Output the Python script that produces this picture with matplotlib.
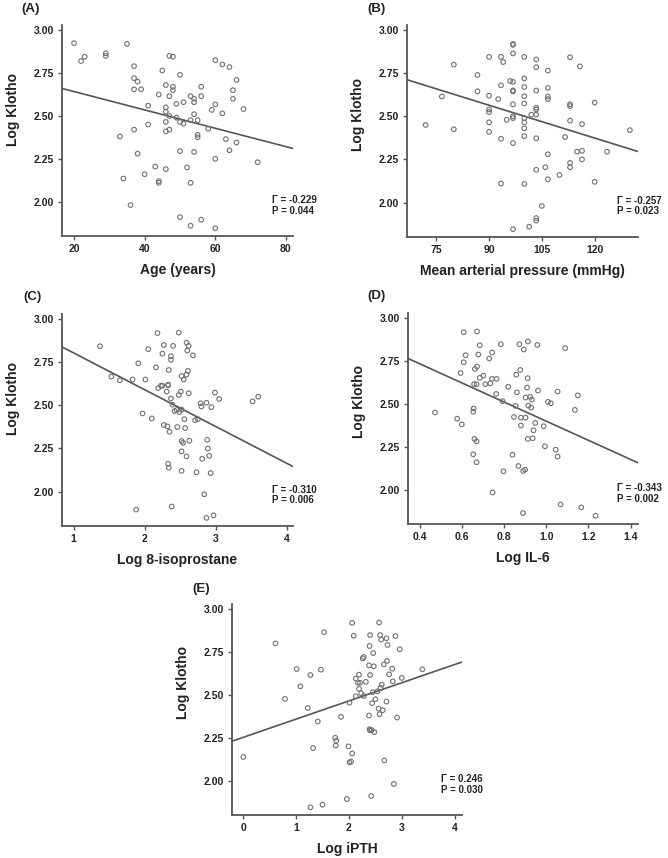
import numpy as np
import matplotlib
matplotlib.use("Agg")
import matplotlib.pyplot as plt

plt.rcParams['font.family'] = ['Liberation Sans', 'DejaVu Sans']

# (A) age vs log klotho
age = [20, 22, 23, 29, 29, 35, 37, 37, 38, 37, 39, 41, 44, 45, 47, 48, 50, 46, 48, 48,
       47, 49, 51, 53, 54, 54, 56, 56, 46, 46, 47, 49, 50, 51, 53, 54, 55, 46, 41, 37,
       46, 47, 33, 55, 55, 58, 59, 60, 60, 62, 64, 66, 65, 65, 62, 68, 63, 66, 64, 38,
       50, 54, 60, 72, 43, 46, 52, 40, 34, 44, 44, 53, 36, 50, 56, 53, 60]
klotho_a = [2.924, 2.82, 2.845, 2.865, 2.85, 2.92, 2.79, 2.72, 2.70, 2.655, 2.655, 2.56, 2.625,
            2.765, 2.85, 2.845, 2.74, 2.68, 2.67, 2.65, 2.615, 2.57, 2.58, 2.615, 2.60, 2.58,
            2.67, 2.615, 2.55, 2.525, 2.50, 2.49, 2.465, 2.455, 2.475, 2.51, 2.475, 2.465,
            2.45, 2.42, 2.41, 2.42, 2.38, 2.39, 2.375, 2.425, 2.535, 2.567, 2.825, 2.80,
            2.785, 2.71, 2.65, 2.60, 2.515, 2.54, 2.365, 2.345, 2.30, 2.28, 2.295, 2.29,
            2.25, 2.23, 2.205, 2.19, 2.20, 2.16, 2.135, 2.12, 2.11, 2.11, 1.98, 1.91, 1.895,
            1.86, 1.845]

# (B) mean arterial pressure
map_mmhg = [72, 76.6, 80, 80, 86.7, 86.7, 90, 90, 90, 90, 90, 90, 92.6, 93.4, 94, 93.4, 93.4,
            93.4, 95, 96, 96.8, 96.8, 96.8, 96.8, 96.8, 96.8, 96.8, 96.8, 96.8, 96.8, 96.8,
            100, 100, 100, 100, 100, 100, 100, 100, 100, 100, 102, 101.4, 103.4, 103.4, 103.4,
            103.4, 103.4, 103.4, 103.4, 103.4, 103.4, 103.4, 105, 106, 106.7, 106.7, 106.7,
            106.7, 106.7, 106.7, 110, 111.6, 113, 113, 113, 113, 113, 113, 115.8, 116.4, 115,
            116.4, 116.4, 120, 120, 123.5, 130]
klotho_b = [2.45, 2.615, 2.80, 2.425, 2.74, 2.645, 2.845, 2.62, 2.54, 2.525, 2.465, 2.41, 2.60,
            2.845, 2.815, 2.68, 2.37, 2.11, 2.48, 2.705, 2.92, 2.915, 2.865, 2.70, 2.65, 2.645,
            2.57, 2.50, 2.49, 2.345, 1.845, 2.845, 2.72, 2.67, 2.617, 2.575, 2.49, 2.465, 2.43,
            2.385, 2.108, 2.51, 1.86, 2.83, 2.785, 2.65, 2.55, 2.54, 2.51, 2.373, 2.19, 1.91,
            1.895, 1.98, 2.205, 2.765, 2.665, 2.615, 2.60, 2.28, 2.135, 2.16, 2.38, 2.843,
            2.57, 2.56, 2.475, 2.23, 2.205, 2.79, 2.455, 2.295, 2.30, 2.25, 2.58, 2.12, 2.295,
            2.42]

# (C) log 8-isoprostane
iso = [1.37, 1.53, 1.65, 1.83, 1.91, 2.01, 2.05, 2.18, 2.16, 2.25, 2.27, 2.40, 2.37, 2.37, 2.34,
       2.19, 2.23, 2.25, 2.33, 2.33, 2.31, 2.37, 2.48, 2.59, 2.62, 2.60, 2.68, 2.61, 2.59, 2.52,
       2.55, 2.51, 2.48, 2.62, 2.39, 2.45, 2.42, 2.52, 2.49, 2.56, 2.75, 2.71, 2.79, 2.80, 2.87,
       2.94, 2.99, 3.05, 3.52, 3.60, 1.97, 2.10, 2.27, 2.32, 2.35, 2.46, 2.57, 2.52, 2.54, 2.63,
       2.88, 2.89, 2.52, 2.59, 2.81, 2.91, 2.33, 2.34, 2.52, 2.73, 2.93, 2.84, 1.88, 2.38, 2.87,
       2.97]
klotho_c = [2.843, 2.667, 2.645, 2.65, 2.744, 2.65, 2.826, 2.919, 2.72, 2.80, 2.85, 2.845, 2.785,
            2.764, 2.705, 2.60, 2.614, 2.614, 2.62, 2.616, 2.58, 2.54, 2.922, 2.864, 2.845,
            2.818, 2.79, 2.70, 2.678, 2.67, 2.65, 2.58, 2.56, 2.57, 2.504, 2.473, 2.467, 2.475,
            2.461, 2.42, 2.42, 2.414, 2.512, 2.494, 2.515, 2.49, 2.574, 2.537, 2.523, 2.55,
            2.453, 2.424, 2.386, 2.378, 2.347, 2.374, 2.368, 2.293, 2.283, 2.295, 2.30, 2.25,
            2.233, 2.204, 2.19, 2.207, 2.161, 2.138, 2.12, 2.112, 2.107, 1.984, 1.895, 1.913,
            1.847, 1.862]

# (D) log IL-6
il6 = [0.473, 0.578, 0.60, 0.594, 0.609, 0.609, 0.618, 0.656, 0.654, 0.658, 0.67, 0.662, 0.672,
       0.672, 0.678, 0.685, 0.685, 0.702, 0.711, 0.66, 0.67, 0.654, 0.67, 0.73, 0.744, 0.735,
       0.743, 0.765, 0.763, 0.785, 0.793, 0.82, 0.746, 0.797, 0.84, 0.847, 0.855, 0.861, 0.858,
       0.868, 0.873, 0.877, 0.88, 0.88, 0.894, 0.90, 0.891, 0.902, 0.89, 0.902, 0.909, 0.912,
       0.913, 0.915, 0.913, 0.924, 0.929, 0.932, 0.936, 0.94, 0.948, 0.958, 0.961, 0.988, 0.994,
       1.008, 1.022, 1.054, 1.045, 1.054, 1.068, 1.09, 1.136, 1.15, 1.166, 1.234]
klotho_d = [2.45, 2.414, 2.381, 2.68, 2.918, 2.743, 2.784, 2.473, 2.455, 2.615, 2.615, 2.704,
            2.718, 2.922, 2.788, 2.842, 2.652, 2.665, 2.615, 2.296, 2.282, 2.206, 2.16, 2.765,
            2.80, 2.62, 2.646, 2.646, 2.558, 2.848, 2.516, 2.60, 1.984, 2.107, 2.204, 2.424,
            2.488, 2.568, 2.67, 2.138, 2.848, 2.698, 2.374, 2.42, 2.817, 2.117, 2.109, 2.42,
            1.864, 2.537, 2.595, 2.65, 2.864, 2.49, 2.296, 2.541, 2.479, 2.525, 2.30, 2.346,
            2.389, 2.844, 2.578, 2.37, 2.253, 2.512, 2.504, 2.572, 2.233, 2.193, 1.914, 2.825,
            2.465, 2.55, 1.897, 1.848]

# (E) log iPTH
ipth = [0, 0.61, 0.79, 1.01, 1.08, 1.22, 1.27, 1.27, 1.32, 1.41, 1.47, 1.50, 1.53, 1.74, 1.76,
        1.75, 1.85, 1.96, 1.99, 2.01, 2.01, 2.04, 2.06, 2.06, 2.09, 2.13, 2.13, 2.17, 2.19, 2.19,
        2.21, 2.23, 2.26, 2.28, 2.28, 2.32, 2.38, 2.39, 2.40, 2.38, 2.40, 2.39, 2.40, 2.43, 2.42,
        2.44, 2.45, 2.47, 2.46, 2.48, 2.50, 2.54, 2.57, 2.59, 2.61, 2.56, 2.58, 2.62, 2.60, 2.64,
        2.67, 2.66, 2.71, 2.71, 2.73, 2.72, 2.76, 2.82, 2.83, 2.85, 2.88, 2.91, 2.96, 3.00, 3.39]
klotho_e = [2.138, 2.80, 2.477, 2.651, 2.55, 2.424, 2.616, 1.845, 2.19, 2.345, 2.647, 1.86, 2.866,
            2.25, 2.233, 2.205, 2.372, 1.893, 2.20, 2.455, 2.107, 2.112, 2.159, 2.92, 2.845,
            2.595, 2.492, 2.571, 2.618, 2.535, 2.571, 2.51, 2.713, 2.721, 2.494, 2.576, 2.672,
            2.785, 2.849, 2.38, 2.616, 2.30, 2.293, 2.295, 1.911, 2.452, 2.516, 2.667, 2.744,
            2.283, 2.475, 2.521, 2.922, 2.849, 2.822, 2.42, 2.388, 2.56, 2.541, 2.411, 2.118,
            2.678, 2.461, 2.83, 2.791, 2.698, 2.62, 2.653, 2.579, 1.981, 2.843, 2.368, 2.766,
            2.599, 2.649]

# regression lines (intercept, slope)
fits = [(2.749, -0.00535), (3.136, -0.00635), (3.017, -0.2132), (2.9575, -0.558), (2.253, 0.106)]
stats = ["\u0393 = -0.229\nP = 0.044", "\u0393 = -0.257\nP = 0.023", "\u0393 = -0.310\nP = 0.006",
         "\u0393 = -0.343\nP = 0.002", "\u0393 = 0.246\nP = 0.030"]
xlabels = ["Age (years)", "Mean arterial pressure (mmHg)", "Log 8-isoprostane", "Log IL-6", "Log iPTH"]
tags = ["(A)", "(B)", "(C)", "(D)", "(E)"]
xdata = [age, map_mmhg, iso, il6, ipth]
ydata = [klotho_a, klotho_b, klotho_c, klotho_d, klotho_e]
xticks = [[20, 40, 60, 80], [75, 90, 105, 120], [1, 2, 3, 4],
          [0.4, 0.6, 0.8, 1.0, 1.2, 1.4], [0, 1, 2, 3, 4]]
xlims = [(16.6, 82), (66.7, 132.3), (0.835, 4.09), (0.345, 1.435), (-0.214, 4.14)]

W, H = 668, 858
boxes = [(62, 25, 293, 236), (407, 25, 638, 237), (62, 314, 293, 526),
         (408, 313, 638, 524), (232, 604, 462, 815)]
tag_pos = [(21, 9), (367, 9), (23, 297), (367, 296), (192, 589)]
ylab_y = [0.6, 0.58, 0.6, 0.58, 0.63]

fig = plt.figure(figsize=(W / 100, H / 100), dpi=100, facecolor='w')

for i in range(5):
    l, t, r, b = boxes[i]
    ax = fig.add_axes([l / W, 1 - b / H, (r - l) / W, (b - t) / H])
    ax.scatter(xdata[i], ydata[i], s=11, facecolors='none', edgecolors='#707070',
               linewidths=0.8, zorder=3)
    xs = np.array(xlims[i])
    a, k = fits[i]
    ax.plot(xs, a + k * xs, color='#555555', lw=1.2, zorder=2)
    ax.set_xlim(*xlims[i])
    ax.set_ylim(1.80, 3.03)
    ax.set_xticks(xticks[i])
    ax.set_xticklabels([('%g' % v) if i != 3 else '%.1f' % v for v in xticks[i]])
    ax.set_yticks([2.00, 2.25, 2.50, 2.75, 3.00])
    ax.set_yticklabels(['2.00', '2.25', '2.50', '2.75', '3.00'])
    for s in ['top', 'right']:
        ax.spines[s].set_visible(False)
    for s in ['left', 'bottom']:
        ax.spines[s].set_color('#555555')
        ax.spines[s].set_linewidth(1.3)
    ax.tick_params(direction='out', length=3, width=1, color='#555555', pad=3,
                   labelsize=7.5, labelcolor='#222222')
    for lab in ax.get_xticklabels() + ax.get_yticklabels():
        lab.set_fontweight('bold')
    ax.set_xlabel(xlabels[i], fontsize=10, fontweight='bold', color='#222222', labelpad=6)
    ax.set_ylabel("Log Klotho", fontsize=10, fontweight='bold', color='#222222', labelpad=9.5)
    ax.yaxis.label.set_y(ylab_y[i])
    ax.text(0.91, 0.195, stats[i], transform=ax.transAxes, ha='left', va='top',
            fontsize=7, fontweight='bold', color='#222222', linespacing=1.1)
    fig.text(tag_pos[i][0] / W, 1 - tag_pos[i][1] / H, tags[i], fontsize=9.5,
             fontweight='bold', color='#222222', ha='left', va='center')

fig.savefig('out.png', dpi=100, facecolor='w')
